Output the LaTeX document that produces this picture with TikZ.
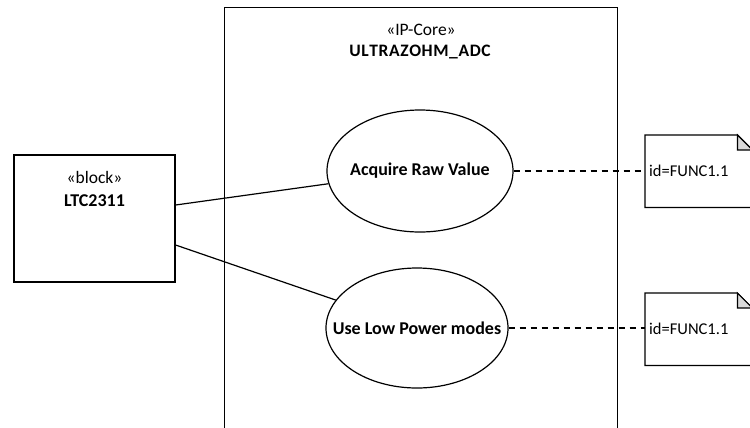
\documentclass[tikz,border=0pt]{standalone}
\usepackage{fontspec}
\setmainfont{Carlito}
\usetikzlibrary{shapes.geometric}
\begin{document}
\begin{tikzpicture}[x=1bp,y=-1bp,
  every node/.style={font=\fontsize{17.5bp}{20bp}\selectfont, inner sep=0pt},
  edge/.style={line width=1.2bp, draw=black},
  dashedge/.style={line width=1.2bp, draw=black, dash pattern=on 6bp off 5bp},
  usecase/.style={ellipse, draw=black, line width=1.2bp, inner sep=0pt},
  uclabel/.style={font=\fontsize{18bp}{20bp}\selectfont\bfseries},
  boxshape/.style={rectangle, draw=black, line width=1.2bp, inner sep=0pt},
  notebox/.style={rectangle, draw=none, minimum width=107bp, minimum height=72bp, inner sep=0pt}
]
\clip (0,0) rectangle (750,427);
\fill[white] (0,0) rectangle (750,427);
% system boundary
\node[boxshape, minimum width=393bp, minimum height=450bp, anchor=north west] (sys) at (224,7) {};
\node (syst) at (421,30) {«IP-Core»};
\node (sysn) at (420,52) {\fontsize{17.5bp}{20bp}\selectfont\bfseries U\kern0.6bp L\kern0.6bp T\kern0.6bp R\kern0.6bp A\kern0.6bp Z\kern0.6bp O\kern0.6bp H\kern0.6bp M\kern0.6bp \_\kern0.6bp A\kern0.6bp D\kern0.6bp C};
% block
\node[boxshape, minimum width=161bp, minimum height=127bp] (blk) at (94.5,218.5) {};
\node (blkt) at (94.5,177) {«block»};
\node (blkn) at (94.5,201) {\fontsize{18bp}{20bp}\selectfont\bfseries LTC2311};
% use cases
\node[usecase, minimum width=186bp, minimum height=122bp] (e1) at (420,171) {};
\node[uclabel] (e1t) at (e1.center) {Acquire Raw Value};
\node[usecase, minimum width=182bp, minimum height=120bp] (e2) at (417,328) {};
\node[uclabel] (e2t) at (e2.center) {Use Low Power modes};
% notes
\node[notebox, anchor=north west] (n1) at (645,135) {};
\node[notebox, anchor=north west] (n2) at (645,293) {};
\foreach \n in {n1,n2}{
  \draw[line width=1.2bp] (\n.north west) -- ([xshift=-15bp]\n.north east) -- ([yshift=-15bp]\n.north east) -- (\n.south east) -- (\n.south west) -- cycle;
  \filldraw[fill=black!15, line width=1.2bp] ([xshift=-15bp]\n.north east) -- ([xshift=-15bp,yshift=-15bp]\n.north east) -- ([yshift=-15bp]\n.north east) -- cycle;
  \node[anchor=west, font=\fontsize{16.5bp}{20bp}\selectfont] at ([xshift=4bp]\n.west) {id=FUNC1.1};
}
% connectors
\draw[edge] ([yshift=13.5bp]blk.east) -- (e1);
\draw[edge] ([yshift=-26.5bp]blk.east) -- (e2);
\draw[dashedge] (e1.east) -- (n1.west |- e1.east);
\draw[dashedge] (e2.east) -- (n2.west |- e2.east);
\end{tikzpicture}
\end{document}
